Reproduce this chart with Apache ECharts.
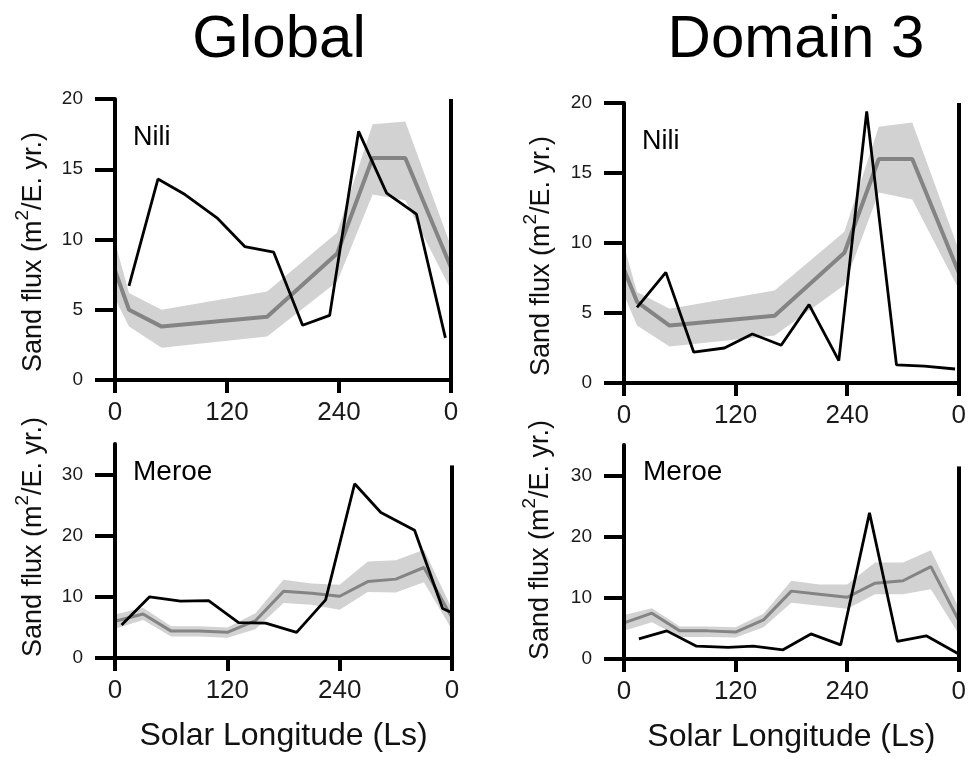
<!DOCTYPE html>
<html>
<head>
<meta charset="utf-8">
<script src="https://cdn.jsdelivr.net/npm/echarts@6/dist/echarts.min.js"></script>
<style>
html,body{margin:0;padding:0;background:#fff;}
#chart{width:969px;height:761px;}
</style>
</head>
<body>
<div id="chart"></div>
<script>
// ---- Data (Solar Longitude in degrees, sand flux in m²/E. yr.) ----
const xTicks = [0, 120, 240, 360];
const xTickLabels = ['0', '120', '240', '0'];
const yTicksTop = [0, 5, 10, 15, 20];
const yTicksBottom = [0, 10, 20, 30];

// Panel 1: Global / Nili
const g1x = [0, 15, 50, 163, 238, 276, 311, 360];
const g1m = [7.8, 5.0, 3.8, 4.5, 9.0, 15.8, 15.8, 8.0];
const g1u = [9.8, 6.2, 5.0, 6.3, 10.5, 18.2, 18.4, 9.5];
const g1l = [5.8, 3.8, 2.3, 3.1, 7.0, 13.2, 12.8, 6.4];
const b1x = [15, 46, 75, 110, 139, 170, 201, 230, 261, 291, 323, 354];
const b1y = [6.7, 14.3, 13.2, 11.5, 9.5, 9.1, 3.9, 4.6, 17.7, 13.3, 11.8, 3.0];

// Panel 2: Domain 3 / Nili
const g2x = [0, 14, 49, 162, 237, 274, 310, 360];
const g2m = [8.1, 5.8, 4.1, 4.8, 9.3, 16.0, 16.0, 7.9];
const g2u = [9.8, 6.5, 5.3, 6.6, 10.8, 18.3, 18.6, 9.5];
const g2l = [6.3, 4.1, 2.6, 3.4, 7.0, 13.6, 13.1, 6.7];
const b2x = [14, 45, 75, 108, 138, 169, 199, 231, 261, 293, 323, 356];
const b2y = [5.4, 7.9, 2.2, 2.5, 3.5, 2.7, 5.6, 1.6, 19.4, 1.3, 1.2, 1.0];

// Panel 3: Global / Meroe
const g3x = [0, 30, 60, 90, 120, 150, 180, 210, 240, 270, 300, 330, 360];
const g3m = [6.0, 7.2, 4.4, 4.4, 4.2, 6.1, 10.9, 10.6, 10.1, 12.5, 12.9, 14.8, 6.6];
const g3u = [7.1, 8.2, 5.2, 5.2, 5.0, 7.3, 12.8, 12.2, 12.0, 15.8, 16.0, 17.7, 8.0];
const g3l = [4.8, 6.2, 3.5, 3.5, 3.3, 4.7, 9.0, 8.7, 7.9, 10.8, 10.7, 12.4, 4.6];
const b3x = [7, 37, 70, 100, 132, 161, 194, 225, 256, 284, 320, 350, 360];
const b3y = [5.4, 10.0, 9.3, 9.4, 5.8, 5.7, 4.2, 9.5, 28.5, 23.8, 20.9, 8.1, 7.4];

// Panel 4: Domain 3 / Meroe
const g4x = [0, 30, 60, 90, 120, 150, 180, 210, 240, 270, 300, 330, 360];
const g4m = [5.9, 7.5, 4.6, 4.6, 4.4, 6.4, 11.1, 10.6, 10.1, 12.4, 12.8, 15.1, 6.3];
const g4u = [7.2, 8.3, 5.3, 5.3, 5.2, 7.4, 12.8, 12.2, 12.2, 15.8, 15.8, 17.8, 8.4];
const g4l = [4.6, 6.0, 3.6, 3.6, 3.5, 5.2, 9.2, 8.7, 8.2, 10.6, 10.6, 11.4, 4.1];
const b4x = [16, 46, 78, 112, 139, 171, 201, 233, 264, 294, 325, 359];
const b4y = [3.3, 4.6, 2.1, 1.9, 2.1, 1.5, 4.1, 2.3, 23.9, 2.9, 3.8, 0.9];

const columnTitles = ['Global', 'Domain 3'];
const panelLabels = ['Nili', 'Nili', 'Meroe', 'Meroe'];
const yNameParts = ['Sand flux (m', '2', '/E. yr.)'];
const xName = 'Solar Longitude (Ls)';

// ---- Build ----
const FONT = '"Liberation Sans", Arial, Helvetica, sans-serif';
const zip = (xs, ys) => xs.map((x, i) => [x, ys[i]]);

const panels = [
  {gx: g1x, gm: g1m, gu: g1u, gl: g1l, bx: b1x, by: b1y, max: 20, ticks: yTicksTop, rightTop: 20,
   grid: {left: 115, top: 99, width: 336, height: 281}, bottom: false, lw: 4, yName: [30, 252]},
  {gx: g2x, gm: g2m, gu: g2u, gl: g2l, bx: b2x, by: b2y, max: 20, ticks: yTicksTop, rightTop: 20,
   grid: {left: 624, top: 103, width: 336, height: 280}, bottom: false, lw: 4, yName: [538, 256]},
  {gx: g3x, gm: g3m, gu: g3u, gl: g3l, bx: b3x, by: b3y, max: 35, ticks: yTicksBottom, rightTop: 31.5,
   grid: {left: 115, top: 444, width: 337, height: 214}, bottom: true, lw: 3, yName: [30, 537]},
  {gx: g4x, gm: g4m, gu: g4u, gl: g4l, bx: b4x, by: b4y, max: 35, ticks: yTicksBottom, rightTop: 31.5,
   grid: {left: 624, top: 445, width: 338, height: 214}, bottom: true, lw: 3, yName: [537, 540]}
];

const grids = [], xAxes = [], yAxes = [], series = [];
const graphics = [];
panels.forEach((p, i) => {
  grids.push(Object.assign({containLabel: false}, p.grid));
  xAxes.push({
    type: 'value', gridIndex: i, min: 0, max: 360, interval: 120,
    axisLine: {show: true, onZero: false, lineStyle: {color: '#000', width: 4}},
    axisTick: {show: true, length: 13, lineStyle: {color: '#000', width: 4}},
    splitLine: {show: false},
    axisLabel: {show: true, margin: 20, color: '#1a1a1a', fontFamily: FONT, fontSize: 26,
      formatter: v => xTickLabels[xTicks.indexOf(v)]},
    name: p.bottom ? xName : '', nameLocation: 'middle', nameGap: 62,
    nameTextStyle: {fontFamily: FONT, fontSize: 32, color: '#111'},
    z: 5
  });
  yAxes.push({
    type: 'value', gridIndex: i, min: 0, max: p.max, interval: p.ticks[1] - p.ticks[0],
    axisLine: {show: true, onZero: false, lineStyle: {color: '#000', width: 4}},
    axisTick: {show: true, length: 20, customValues: p.ticks, lineStyle: {color: '#000', width: 4}},
    splitLine: {show: false},
    axisLabel: {show: true, margin: 32, customValues: p.ticks, color: '#1a1a1a', fontFamily: FONT, fontSize: 19},
    z: 5
  });
  // uncertainty band
  series.push({
    type: 'custom', xAxisIndex: i, yAxisIndex: i, silent: true, z: 1,
    data: [[p.gx[0], p.gm[0]]],
    renderItem: function (params, api) {
      const pts = [];
      for (let k = 0; k < p.gx.length; k++) pts.push(api.coord([p.gx[k], p.gu[k]]));
      for (let k = p.gx.length - 1; k >= 0; k--) pts.push(api.coord([p.gx[k], p.gl[k]]));
      return {type: 'polygon', shape: {points: pts}, style: {fill: '#d2d2d2'}};
    }
  });
  // mean (gray) line
  series.push({
    type: 'line', xAxisIndex: i, yAxisIndex: i, data: zip(p.gx, p.gm), showSymbol: false,
    silent: true, z: 2, lineStyle: {color: '#848484', width: p.lw}, animation: false
  });
  // observed (black) line
  series.push({
    type: 'line', xAxisIndex: i, yAxisIndex: i, data: zip(p.bx, p.by), showSymbol: false,
    silent: true, z: 3, lineStyle: {color: '#000', width: 2.8}, animation: false,
    markLine: {
      silent: true, symbol: 'none', animation: false, label: {show: false},
      lineStyle: {color: '#000', width: 4, type: 'solid'},
      data: [[{coord: [360, 0]}, {coord: [360, p.rightTop]}]]
    }
  });
  // y-axis title with superscript
  graphics.push({
    type: 'text', x: p.yName[0], y: p.yName[1], rotation: Math.PI / 2,
    style: {
      text: '{a|' + yNameParts[0] + '}{s|' + yNameParts[1] + '}{a|' + yNameParts[2] + '}',
      align: 'center', verticalAlign: 'middle',
      rich: {
        a: {fontFamily: FONT, fontSize: 27, lineHeight: 34, fill: '#111', verticalAlign: 'bottom'},
        s: {fontFamily: FONT, fontSize: 19, lineHeight: 22, fill: '#111', verticalAlign: 'top'}
      }
    }
  });
});

graphics.push(
  {type: 'text', x: 279, y: 40, style: {text: columnTitles[0], font: '60px ' + FONT, fill: '#000', align: 'center', verticalAlign: 'middle'}},
  {type: 'text', x: 796, y: 40, style: {text: columnTitles[1], font: '60px ' + FONT, fill: '#000', align: 'center', verticalAlign: 'middle'}},
  {type: 'text', x: 133, y: 138, style: {text: panelLabels[0], font: '27px ' + FONT, fill: '#000', align: 'left', verticalAlign: 'middle'}},
  {type: 'text', x: 642, y: 142, style: {text: panelLabels[1], font: '27px ' + FONT, fill: '#000', align: 'left', verticalAlign: 'middle'}},
  {type: 'text', x: 133, y: 472, style: {text: panelLabels[2], font: '28px ' + FONT, fill: '#000', align: 'left', verticalAlign: 'middle'}},
  {type: 'text', x: 643, y: 472, style: {text: panelLabels[3], font: '28px ' + FONT, fill: '#000', align: 'left', verticalAlign: 'middle'}}
);

const chart = echarts.init(document.getElementById('chart'), null, {renderer: 'canvas'});
chart.setOption({
  animation: false,
  backgroundColor: '#fff',
  grid: grids, xAxis: xAxes, yAxis: yAxes, series: series,
  graphic: graphics
});
</script>
</body>
</html>
